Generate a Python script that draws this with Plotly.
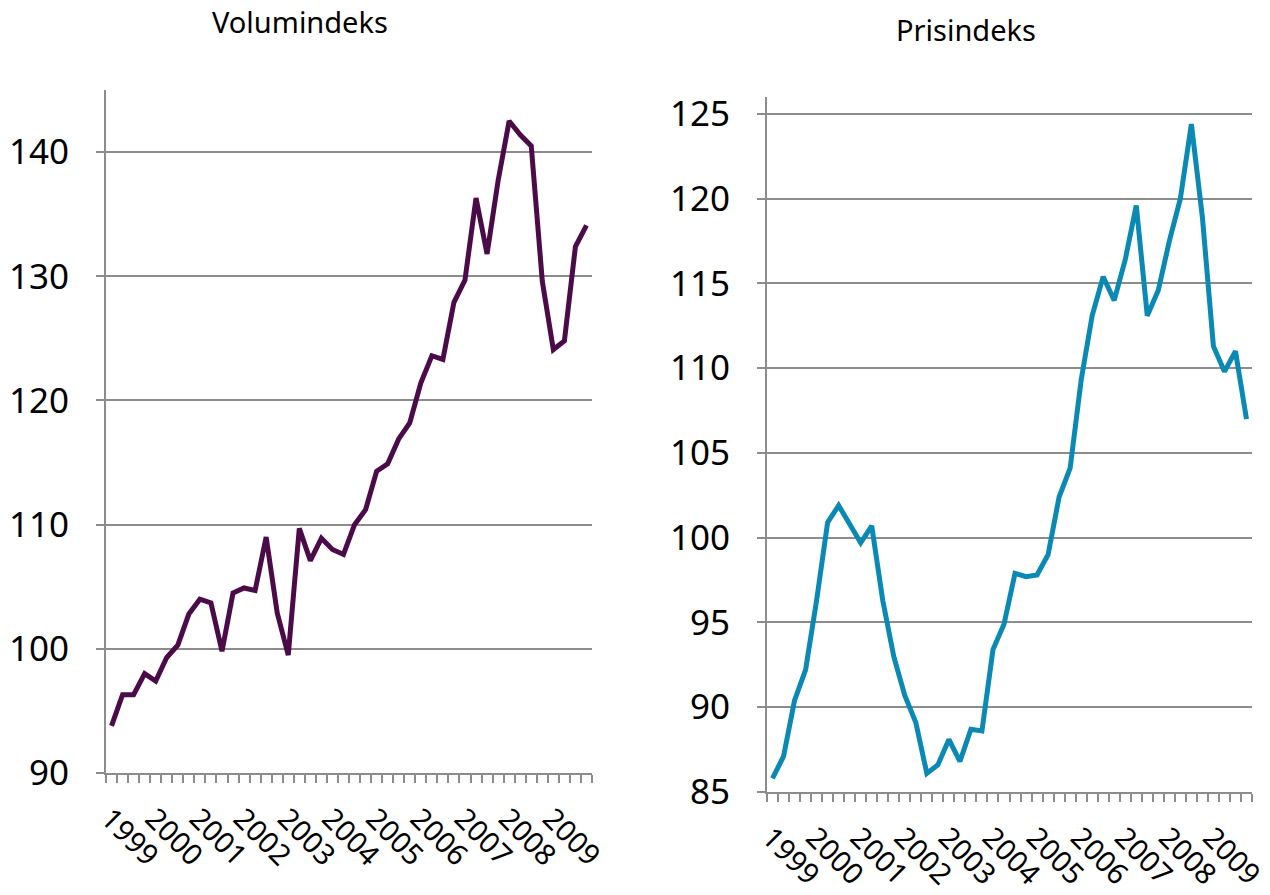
import plotly.graph_objects as go

years = [str(y) for y in range(1999, 2010)]
quarters = [f"{y}K{q}" for y in years for q in range(1, 5)]

volumindeks = [
    93.8, 96.3, 96.3, 98.0, 97.4, 99.3, 100.3, 102.8, 104.0, 103.7, 99.8,
    104.5, 104.9, 104.7, 109.0, 102.9, 99.5, 109.7, 107.1, 108.9, 108.0, 107.6,
    110.0, 111.2, 114.3, 114.9, 116.9, 118.2, 121.4, 123.6, 123.3, 127.9,
    129.7, 136.3, 131.8, 137.7, 142.5, 141.4, 140.5, 129.6, 124.1, 124.8,
    132.4, 134.1,
]
prisindeks = [
    85.8, 87.1, 90.4, 92.2, 96.3, 100.9, 101.9, 100.8, 99.7, 100.7, 96.3,
    93.0, 90.7, 89.1, 86.1, 86.6, 88.1, 86.8, 88.7, 88.6, 93.4, 94.9,
    97.9, 97.7, 97.8, 99.0, 102.4, 104.1, 109.3, 113.1, 115.4, 114.0,
    116.4, 119.6, 113.1, 114.6, 117.5, 120.0, 124.4, 118.9, 111.3, 109.8,
    111.0, 107.0,
]
ticktext = [q[:4] if q.endswith("K1") else "" for q in quarters]

W, H = 1270, 895
FONT = "Noto Sans, Tahoma, DejaVu Sans, sans-serif"
GRID = "#8c8c8c"


def px_x(a, b):
    return [a / W, b / W]


def px_y(top, bottom):
    return [1 - bottom / H, 1 - top / H]


fig = go.Figure()
fig.add_trace(go.Scatter(x=quarters, y=volumindeks, mode="lines",
                         line=dict(color="#4b0a48", width=5),
                         xaxis="x", yaxis="y", showlegend=False))
fig.add_trace(go.Scatter(x=quarters, y=prisindeks, mode="lines",
                         line=dict(color="#0a89b4", width=5),
                         xaxis="x2", yaxis="y2", showlegend=False))

xcommon = dict(type="category", categoryorder="array", categoryarray=quarters,
               range=[-0.5, len(quarters) - 0.5], tickmode="array",
               tickvals=quarters, ticktext=ticktext, tickson="boundaries",
               ticks="outside", ticklen=8, tickwidth=2, tickcolor=GRID,
               showline=True, linecolor=GRID, linewidth=2, showgrid=False,
               tickangle=45, tickfont=dict(family=FONT, size=29, color="#000"),
               ticklabelstandoff=15, ticklabelshift=-2, zeroline=False,
               automargin=False)
ycommon = dict(ticks="outside", ticklen=8, tickwidth=2, tickcolor=GRID,
               showline=True, linecolor=GRID, linewidth=2, showgrid=True,
               gridcolor=GRID, gridwidth=2, zeroline=False,
               tickfont=dict(family=FONT, size=35, color="#000"),
               ticklabelstandoff=20, automargin=False)

fig.update_layout(
    width=W, height=H, autosize=False,
    margin=dict(l=0, r=0, t=0, b=0, autoexpand=False),
    paper_bgcolor="white", plot_bgcolor="white",
    font=dict(family=FONT, color="#000"),
    xaxis=dict(domain=px_x(106, 592), anchor="y", **xcommon),
    yaxis=dict(domain=px_y(90, 773), anchor="x", range=[90, 145],
               tickvals=[90, 100, 110, 120, 130, 140], **ycommon),
    xaxis2=dict(domain=px_x(767, 1252), anchor="y2", **xcommon),
    yaxis2=dict(domain=px_y(97, 792), anchor="x2", range=[85, 126],
                tickvals=[85, 90, 95, 100, 105, 110, 115, 120, 125], **ycommon),
    annotations=[
        dict(text="Volumindeks", x=300 / W, y=1 - 22 / H, xref="paper", yref="paper",
             showarrow=False, xanchor="center", yanchor="middle",
             font=dict(family=FONT, size=29, color="#000")),
        dict(text="Prisindeks", x=966 / W, y=1 - 30 / H, xref="paper", yref="paper",
             showarrow=False, xanchor="center", yanchor="middle",
             font=dict(family=FONT, size=29, color="#000")),
    ],
)

fig.write_html("out.html", config={"displayModeBar": False},
               post_script="document.body.style.margin='0';")
